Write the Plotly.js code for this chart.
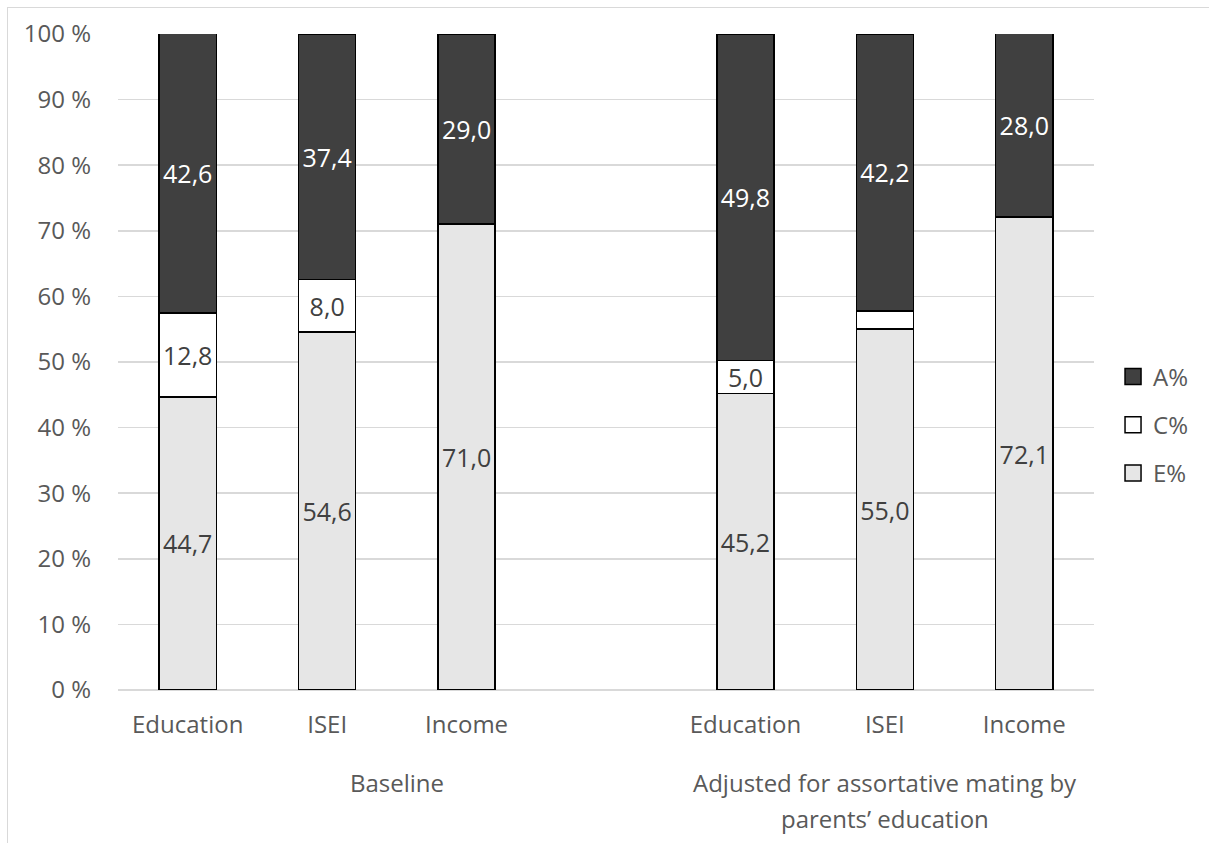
<!DOCTYPE html>
<html>
<head>
<meta charset="utf-8">
<script src="https://cdn.plot.ly/plotly-3.0.1.min.js"></script>
<style>
  html, body { margin: 0; padding: 0; background: #ffffff; overflow: hidden; }
  #chart { position: absolute; left: 0; top: 0; width: 1209px; height: 843px; }
  #frame {
    position: absolute; left: 7px; top: 7px; width: 1400px; height: 1100px;
    border: 1.5px solid #d9d9d9; pointer-events: none; z-index: 2;
  }
</style>
</head>
<body>
<div id="chart"></div>
<div id="frame"></div>
<script>
// Variance shares (%) per outcome, before and after the assortative-mating adjustment
const categories = ['Education', 'ISEI', 'Income', 'Education', 'ISEI', 'Income'];
const groupOf = [0, 0, 0, 1, 1, 1];
const groupLabels = ['Baseline', 'Adjusted for assortative mating by<br>parents’ education'];

const ePct = [44.7, 54.6, 71.0, 45.2, 55.0, 72.1];
const cPct = [12.8, 8.0, 0.0, 5.0, 2.8, 0.0];
const aPct = [42.6, 37.4, 29.0, 49.8, 42.2, 28.0];

const seriesNames = ['E%', 'C%', 'A%'];
const yTicks = [0, 10, 20, 30, 40, 50, 60, 70, 80, 90, 100];

const FONT = 'Open Sans, sans-serif';
const TEXT_GREY = '#595959';

// One empty slot separates the two groups on the category axis
const xPos = categories.map((c, i) => i + groupOf[i]);

// Segments too short to hold a label are left unlabeled
const fmt = v => (v >= 4 ? v.toFixed(1).replace('.', ',') : '');

const fills = ['#e6e6e6', '#ffffff', '#404040'];
const labelColors = ['#404040', '#404040', '#ffffff'];
const seriesValues = [ePct, cPct, aPct];

const traces = seriesValues.map((vals, k) => ({
  type: 'bar',
  name: seriesNames[k],
  legendgroup: seriesNames[k],
  legendrank: seriesValues.length - k,   // top of the stack first in the legend
  x: xPos,
  y: vals,
  text: vals.map(fmt),
  textposition: 'inside',
  insidetextanchor: 'middle',
  textangle: 0,
  constraintext: 'none',
  textfont: { family: FONT, size: 25, color: labelColors[k] },
  marker: { color: fills[k], line: { color: '#000000', width: 1.5 } },
  hoverinfo: 'skip'
}));

// Group captions centred under each group's span of slots
const lastSlot = Math.max(...xPos);
const annotations = [];
groupLabels.forEach((label, g) => {
  const slots = xPos.filter((x, i) => groupOf[i] === g);
  const first = Math.min(...slots);
  const nextFirst = g + 1 < groupLabels.length
    ? Math.min(...xPos.filter((x, i) => groupOf[i] === g + 1))
    : lastSlot + 1;
  const centre = (first + nextFirst - 1) / 2;
  label.split('<br>').forEach((line, j) => {
    annotations.push({
      text: line, x: centre, xref: 'x', y: 0, yref: 'paper',
      xanchor: 'center', yanchor: 'middle', yshift: -92 - 36 * j,
      showarrow: false, font: { family: FONT, size: 24, color: TEXT_GREY }
    });
  });
});

const layout = {
  width: 1209, height: 843,
  margin: { l: 118, r: 115, t: 34, b: 153 },
  paper_bgcolor: '#ffffff', plot_bgcolor: '#ffffff',
  font: { family: FONT, size: 24, color: TEXT_GREY },
  barmode: 'stack',
  bargap: 0.59,
  showlegend: true,
  legend: {
    x: 1.0195, xanchor: 'left', y: 0.404, yanchor: 'middle',
    traceorder: 'grouped', tracegroupgap: 14,
    font: { family: FONT, size: 24, color: TEXT_GREY }, bgcolor: 'rgba(0,0,0,0)'
  },
  xaxis: {
    range: [-0.5, lastSlot + 0.5],
    tickvals: xPos, ticktext: categories,
    showgrid: false, zeroline: false, showline: false, ticks: '',
    ticklabelstandoff: 18,
    tickfont: { family: FONT, size: 24, color: TEXT_GREY }
  },
  yaxis: {
    range: [0, 100], tickvals: yTicks, ticktext: yTicks.map(v => v + ' %'),
    showgrid: true, gridcolor: '#d9d9d9', gridwidth: 1.5,
    zeroline: true, zerolinecolor: '#d9d9d9', zerolinewidth: 1.5,
    showline: false, ticks: '', ticklabelstandoff: 26,
    tickfont: { family: FONT, size: 24, color: TEXT_GREY }
  },
  annotations: annotations
};

Plotly.newPlot('chart', traces, layout, { staticPlot: true, displayModeBar: false }).then(gd => {
  // slightly larger legend swatches
  gd.querySelectorAll('.legendpoints path').forEach(p => p.setAttribute('d', 'M8,8H-8V-8H8Z'));
});
</script>
</body>
</html>
